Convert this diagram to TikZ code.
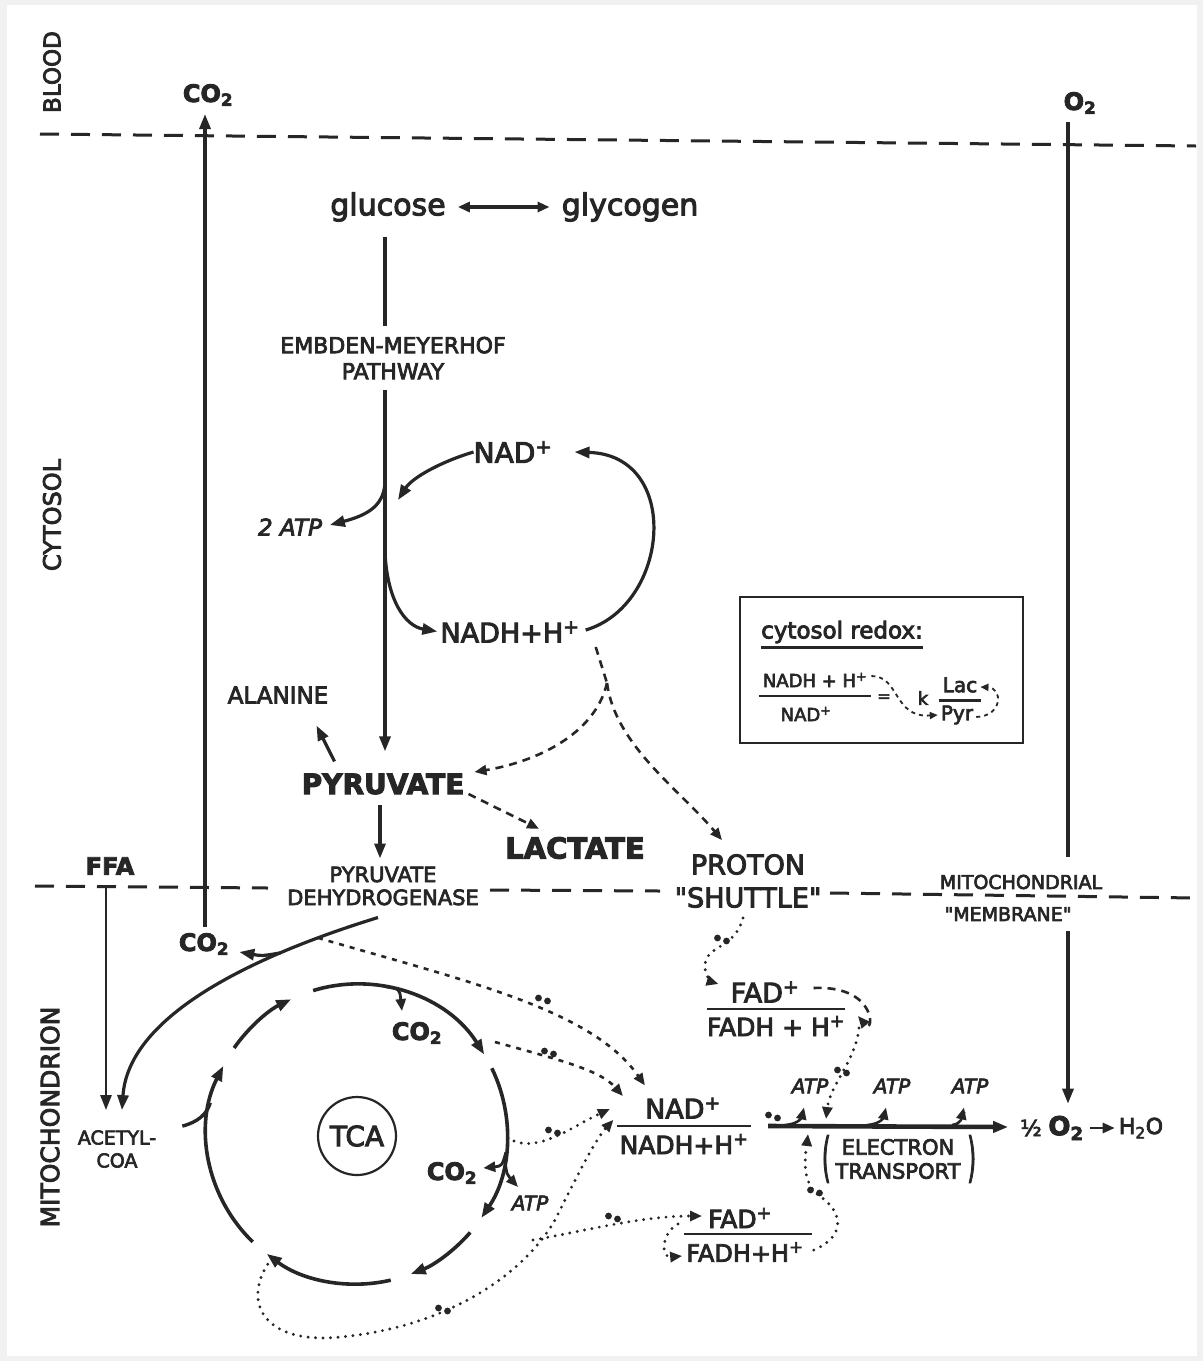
\documentclass[tikz,border=0pt]{standalone}
\usepackage{fontspec}
\usepackage{graphicx}
\setmainfont{DejaVu Sans}[FakeBold=3.5, Ligatures=TeXOff]
\usetikzlibrary{arrows.meta,calc}
\definecolor{ink}{RGB}{38,38,38}
\definecolor{edgegray}{RGB}{241,241,241}
\newcommand\fsz[2]{\fontsize{#1}{#2}\selectfont}
\newcommand\sq{"}
\begin{document}
\begin{tikzpicture}[x=1pt,y=-1pt,
  lbl/.style={inner sep=0pt, text=ink, align=center},
  ln/.style={draw=ink, line width=3.2pt},
  ah/.style={-{Triangle[length=15pt,width=11pt]}},
  ahs/.style={-{Triangle[length=12pt,width=10pt]}},
  dblah/.style={{Triangle[length=12pt,width=10pt]}-{Triangle[length=12pt,width=10pt]}},
  bound/.style={draw=ink, line width=3pt, dash pattern=on 19pt off 12pt},
  nadhdash/.style={draw=ink, line width=2.6pt, dash pattern=on 8pt off 6pt},
  fdash/.style={draw=ink, line width=2.6pt, dash pattern=on 5pt off 6pt},
  dotln/.style={draw=ink, line width=3.2pt, line cap=round, dash pattern=on 0pt off 7.5pt},
  epair/.pic={\fill[ink] (-4.5,-2) circle[radius=3.4]; \fill[ink] (4.5,1) circle[radius=3.4];}
]
\useasboundingbox (0,0) rectangle (1203,1361);
\fill[edgegray] (0,0) rectangle (1203,1361);
\fill[white] (7,5) rectangle (1197,1356);

% ---------- region labels ----------
\node[lbl, rotate=90, font=\fsz{23}{23}] (blood) at (52,72) {BLOOD};
\node[lbl, rotate=90, font=\fsz{24}{24}] (cytosol) at (52,515) {CYTOSOL};
\node[lbl, rotate=90, font=\fsz{25}{25}] (mito) at (50,1117) {MITOCHONDRION};

% ---------- boundaries ----------
\draw[bound] (40,134) -- (1196,146);
\draw[bound] (35,886) -- (268,888);
\draw[bound] (490,890) -- (660,891);
\draw[bound] (830,893) -- (1196,898);

% ---------- text nodes ----------
\node[lbl, font=\bfseries\fsz{24}{24}] (co2top) at (208,95) {CO\textsubscript{2}};
\node[lbl, font=\bfseries\fsz{24}{24}] (o2top) at (1080,103) {O\textsubscript{2}};
\node[lbl, font=\fsz{30}{30}] (glucose) at (388,207) {glucose};
\node[lbl, font=\fsz{30}{30}] (glycogen) at (630,207) {glycogen};
\node[lbl, font=\fsz{22}{26}] (emp) at (393,358) {EMBDEN-MEYERHOF\\PATHWAY};
\node[lbl, font=\fsz{28}{28}] (nad1) at (513,452) {NAD\textsuperscript{+}};
\node[lbl, font=\itshape\fsz{23}{23}] (atp2) at (290,527) {2 ATP};
\node[lbl, font=\fsz{27}{27}] (nadh1) at (510,632) {NADH+H\textsuperscript{+}};
\node[lbl, font=\fsz{23}{23}] (alanine) at (278,695) {ALANINE};
\node[lbl, font=\bfseries\fsz{28}{28}] (pyr) at (383,784) {PYRUVATE};
\node[lbl, font=\bfseries\fsz{29}{29}] (lactate) at (575,848) {LACTATE};
\node[lbl, font=\fsz{21}{23}] (pdh) at (383,886) {PYRUVATE\\DEHYDROGENASE};
\node[lbl, font=\fsz{27}{33}] (proton) at (748,881) {PROTON\\\sq SHUTTLE\sq};
\node[lbl, font=\bfseries\fsz{24}{24}] (ffa) at (110,866) {FFA};
\node[lbl, font=\fsz{19}{19}] (mit1) at (1021,882) {MITOCHONDRIAL};
\node[lbl, font=\fsz{19}{19}] (mit2) at (1008,914) {\sq MEMBRANE\sq};
\node[lbl, font=\bfseries\fsz{24}{24}] (co2pdh) at (204,944) {CO\textsubscript{2}};
\node[lbl, font=\fsz{19}{23}] (acetyl) at (117,1149) {ACETYL-\\COA};

% ---------- cytosol redox box ----------
\node[draw=ink, line width=2.4pt, minimum width=283pt, minimum height=146pt, inner sep=0pt] (redox) at (881.5,670) {};
\node[lbl, font=\fsz{23}{23}] (rtitle) at (842,632) {cytosol redox:};
\draw[ln, line width=2.4pt] ($(rtitle.south west)+(0,4)$) -- ($(rtitle.south east)+(0,4)$);
\node[lbl, font=\fsz{18}{18}] (rnum) at (815,680) {NADH + H\textsuperscript{+}};
\node[lbl, font=\fsz{18}{18}] (rden) at (806,714) {NAD\textsuperscript{+}};
\draw[ln, line width=2.4pt] ($(rnum.south west)+(-4,9)$) -- ($(rnum.south east)+(4,9)$);
\node[lbl, font=\fsz{16}{16}] (req) at (884,698) {=};
\node[lbl, font=\fsz{18}{18}] (rk) at (923,698) {k};
\node[lbl, font=\fsz{20}{20}] (rlac) at (960,685) {Lac};
\node[lbl, font=\fsz{20}{20}] (rpyr) at (957,715) {Pyr};
\draw[ln, line width=2.4pt] ($(rlac.south west)+(-4,8)$) -- ($(rlac.south east)+(4,8)$);
\draw[draw=ink, line width=1.8pt, dash pattern=on 4pt off 4pt, -{Triangle[length=8pt,width=7pt]}]
  ($(rnum.east)+(4,-4)$) .. controls (900,676) and (893,718) .. ($(rpyr.west)+(-3,0)$);
\draw[draw=ink, line width=1.8pt, dash pattern=on 4pt off 4pt, -{Triangle[length=8pt,width=7pt]}]
  ($(rpyr.east)+(3,2)$) .. controls (1003,716) and (1003,688) .. ($(rlac.east)+(3,2)$);

% ---------- glycolysis ----------
\draw[ln, dblah, shorten <=12pt, shorten >=12pt] (glucose) -- (glycogen);
\coordinate (vx) at (385,0);
\draw[ln] ($(glucose.south -| vx)+(0,15)$) -- ($(emp.north -| vx)+(0,-11)$);
\draw[ln, ah] ($(emp.south -| vx)+(0,11)$) -- ($(pyr.north -| vx)+(0,-22)$);

\coordinate (gA) at (398,500);
\coordinate (gB) at (385,478);
\coordinate (gC) at (385,552);
\draw[ln, ah] (nad1.west) .. controls (440,462) and (412,478) .. (gA);
\draw[ln, ah, shorten >=8pt] (gB) .. controls (386,505) and (368,515) .. (atp2.east);
\draw[ln, ah, shorten >=3pt] (gC) .. controls (387,600) and (405,626) .. (nadh1.west);
\draw[ln, ah] ($(nadh1.east)+(6,-2)$) .. controls (670,605) and (682,455) .. ($(nad1.east)+(22,0)$);

% NADH dashed
\coordinate (dj) at (607,683);
\draw[nadhdash] ($(nadh1.east)+(16,15)$) -- (dj);
\draw[nadhdash, ahs] (dj) .. controls (595,735) and (535,762) .. ($(pyr.east)+(10,-12)$);
\draw[nadhdash, ahs] (dj) .. controls (615,745) and (680,790) .. ($(proton.north)+(-26,-14)$);

% pyruvate
\draw[ln, ah] ($(pyr.south)+(-3,10)$) -- ($(pdh.north)+(-3,-8)$);
\draw[ln, ah] ($(pyr.north west)+(33,-12)$) -- ($(alanine.south east)+(-12,22)$);
\draw[nadhdash, ahs] ($(pyr.east)+(4,10)$) -- ($(lactate.north west)+(34,-8)$);

% FFA and PDH
\coordinate (fx) at (106,0);
\draw[ln, line width=2.6pt, ah] ($(ffa.south -| fx)+(0,10)$) -- ($(acetyl.north -| fx)+(0,-20)$);
\draw[ln, ah] ($(pdh.south)+(-5,12)$) .. controls (240,960) and (128,1020) .. ($(acetyl.north)+(5,-20)$)
  coordinate[pos=0.25] (br1) coordinate[pos=0.15] (pdhdot);
\draw[ln, ah] (br1) .. controls (262,956) .. ($(co2pdh.east)+(10,8)$);
\coordinate (cx) at (205,0);
\draw[ln, ah] ($(co2pdh.north -| cx)+(0,-6)$) -- ($(co2top.south -| cx)+(0,8)$);

% O2
\coordinate (ox) at (1068,0);
\node[lbl, font=\fsz{22}{22}] (half) at (1031,1128) {½};
\node[lbl, font=\bfseries\fsz{26}{26}] (o2bot) at (1066,1128) {O\textsubscript{2}};
\node[lbl, font=\fsz{22}{22}] (h2o) at (1141,1128) {H\textsubscript{2}O};
\draw[ln] ($(o2top.south -| ox)+(0,8)$) -- ($(mit1.north -| ox)+(0,-18)$);
\draw[ln, ah] ($(mit2.south -| ox)+(0,10)$) -- ($(o2bot.north -| ox)+(0,-12)$);
\draw[ln, line width=2.6pt, ahs, shorten <=6pt, shorten >=4pt] (o2bot.east) -- (h2o.west);

% ---------- TCA cycle ----------
\coordinate (tc) at (357,1134);
\node[draw=ink, line width=2.2pt, circle, minimum size=78pt, inner sep=0pt, text=ink, font=\fsz{28}{28}] (tca) at (357,1136) {TCA};
\draw[ln, line width=3.6pt, ah] ($(tc)+(-107:150)$) arc[start angle=-107, end angle=-32, radius=150];
\draw[ln, line width=3.6pt, ah] ($(tc)+(-26:150)$) arc[start angle=-26, end angle=34, radius=150];
\draw[ln, line width=3.6pt, ah] ($(tc)+(41:150)$) arc[start angle=41, end angle=69, radius=150];
\draw[ln, line width=3.6pt, ah] ($(tc)+(77:150)$) arc[start angle=77, end angle=127, radius=150];
\draw[ln, line width=3.6pt, ah] ($(tc)+(134:150)$) arc[start angle=134, end angle=207, radius=150];
\draw[ln, line width=3.6pt, ah] ($(tc)+(-145:150)$) arc[start angle=-145, end angle=-116, radius=150];

\node[lbl, font=\bfseries\fsz{24}{24}] (co2a) at (417,1033) {CO\textsubscript{2}};
\node[lbl, font=\bfseries\fsz{24}{24}] (co2b) at (452,1173) {CO\textsubscript{2}};
\node[lbl, font=\itshape\fsz{20}{20}] (atpc) at (530,1203) {ATP};
\coordinate (b1) at ($(tc)+(-79:150)$);
\coordinate (b1e) at (402,1011);
\draw[ln, line width=2.8pt, ahs] (b1) .. controls ($(b1)+(14,2)$) .. (b1e);
\coordinate (b2) at ($(tc)+(7:150)$);
\draw[ln, line width=2.8pt, ahs] (b2) .. controls (502,1166) .. ($(co2b.east)+(6,-5)$);
\coordinate (b3) at ($(tc)+(10:150)$);
\coordinate (b3e) at (518,1187);
\draw[ln, line width=2.8pt, ahs] (b3) .. controls (507,1175) .. (b3e);
\draw[ln, line width=3.4pt] ($(acetyl.north east)+(26,-4)$) .. controls (198,1122) and (207,1114) .. ($(tc)+(-168:150)$);

% ---------- NAD / FAD in mitochondrion ----------
\node[lbl, font=\fsz{27}{27}] (nadl) at (683,1108) {NAD\textsuperscript{+}};
\node[lbl, font=\fsz{25}{25}] (nadhl) at (684,1144) {NADH+H\textsuperscript{+}};
\draw[ln, line width=2.6pt] ($(nadhl.north west)+(-2,-8)$) -- ($(nadhl.north east)+(2,-8)$);

\node[lbl, font=\fsz{27}{27}] (fadu) at (765,992) {FAD\textsuperscript{+}};
\node[lbl, font=\fsz{25}{25}] (fadhu) at (776,1026) {FADH + H\textsuperscript{+}};
\draw[ln, line width=2.6pt] ($(fadhu.north west)+(0,-7)$) -- ($(fadhu.north east)+(0,-7)$);

\node[lbl, font=\fsz{25}{25}] (fadl) at (740,1218) {FAD\textsuperscript{+}};
\node[lbl, font=\fsz{24}{24}] (fadhl) at (745,1252) {FADH+H\textsuperscript{+}};
\draw[ln, line width=2.6pt] ($(fadhl.north west)+(-2,-8)$) -- ($(fadhl.north east)+(8,-8)$);

% electron transport
\coordinate (etS) at (768,1126);
\draw[ln, line width=4.6pt, ah] (etS) -- ($(half.west)+(-12,-1)$);
\node[lbl, font=\itshape\fsz{20}{20}] (atpe1) at (810,1086) {ATP};
\node[lbl, font=\itshape\fsz{20}{20}] (atpe2) at (892,1086) {ATP};
\node[lbl, font=\itshape\fsz{20}{20}] (atpe3) at (970,1086) {ATP};
\coordinate (h1) at (785,1125);
\coordinate (h2) at (867,1125);
\coordinate (h3) at (952,1125);
\draw[ln, line width=2.6pt, ahs] (h1) .. controls (800,1124) and (802,1116) .. ($(atpe1.south)+(-6,14)$);
\draw[ln, line width=2.6pt, ahs] (h2) .. controls (882,1124) and (884,1116) .. ($(atpe2.south)+(-6,14)$);
\draw[ln, line width=2.6pt, ahs] (h3) .. controls (962,1124) and (962,1116) .. ($(atpe3.south)+(-6,14)$);
\node[lbl, font=\fsz{21}{24}] (et) at (898,1159) {ELECTRON\\TRANSPORT};
\node[lbl, font=\fsz{22}{22}] (lpar) at ($(et.west)+(-9,0)$) {\scalebox{1}[2.4]{(}};
\node[lbl, font=\fsz{22}{22}] (rpar) at ($(et.east)+(11,0)$) {\scalebox{1}[2.4]{)}};

% ---------- electron-pair paths ----------
\draw[fdash, ahs] (pdhdot) .. controls (470,982) and (592,1010) .. ($(nadl.north west)+(0,-12)$);
\coordinate (s2) at (495,1042);
\draw[fdash, ahs] (s2) .. controls (560,1060) and (600,1070) .. ($(nadl.west)+(-22,-12)$);
\coordinate (s3) at (514,1141);
\draw[dotln, ahs] (s3) .. controls (540,1152) and (575,1125) .. ($(nadl.west)+(-35,1)$);
\coordinate (s4) at (272,1258);
\draw[dotln, ahs] (s4) .. controls (240,1300) and (262,1345) .. (340,1337)
  .. controls (440,1328) and (520,1280) .. (555,1220)
  .. controls (575,1180) and (595,1140) .. ($(nadhl.north west)+(-6,-14)$);
\coordinate (s5) at (533,1240);
\draw[dotln, ahs] (s5) .. controls (580,1232) and (640,1216) .. ($(fadl.west)+(-6,-2)$);
\coordinate (fadloop) at (678,1224);
\draw[dotln, ahs] (fadloop) .. controls (662,1232) and (660,1258) .. ($(fadhl.west)+(-4,4)$);
\coordinate (et2) at (808,1134);
\draw[dotln, ahs] ($(fadhl.east)+(10,-2)$) .. controls (848,1235) and (842,1210) .. (818,1195)
  .. controls (800,1180) and (806,1152) .. (et2);
\draw[dotln, ahs] ($(proton.south)+(-5,10)$) .. controls (735,950) and (703,945) .. (705,968)
  .. controls (706,978) and (712,982) .. ($(fadu.west)+(-12,-8)$);
\coordinate (fdU) at (858,1016);
\draw[nadhdash, ahs] ($(fadu.east)+(14,-4)$) .. controls (878,985) and (874,1035) .. (fdU);
\coordinate (fdD) at (859,1028);
\coordinate (etD) at (826,1119);
\draw[dotln, ahs] (fdD) .. controls (856,1060) and (830,1085) .. (etD);

\pic at (543,1000) {epair};
\pic at (549,1053) {epair};
\pic at (553,1132) {epair};
\pic at (443,1310) {epair};
\pic at (613,1218) {epair};
\pic at (722,940) {epair};
\pic at (842,1072) {epair};
\pic at (815,1192) {epair};
\pic at (773,1117) {epair};
\end{tikzpicture}
\end{document}
